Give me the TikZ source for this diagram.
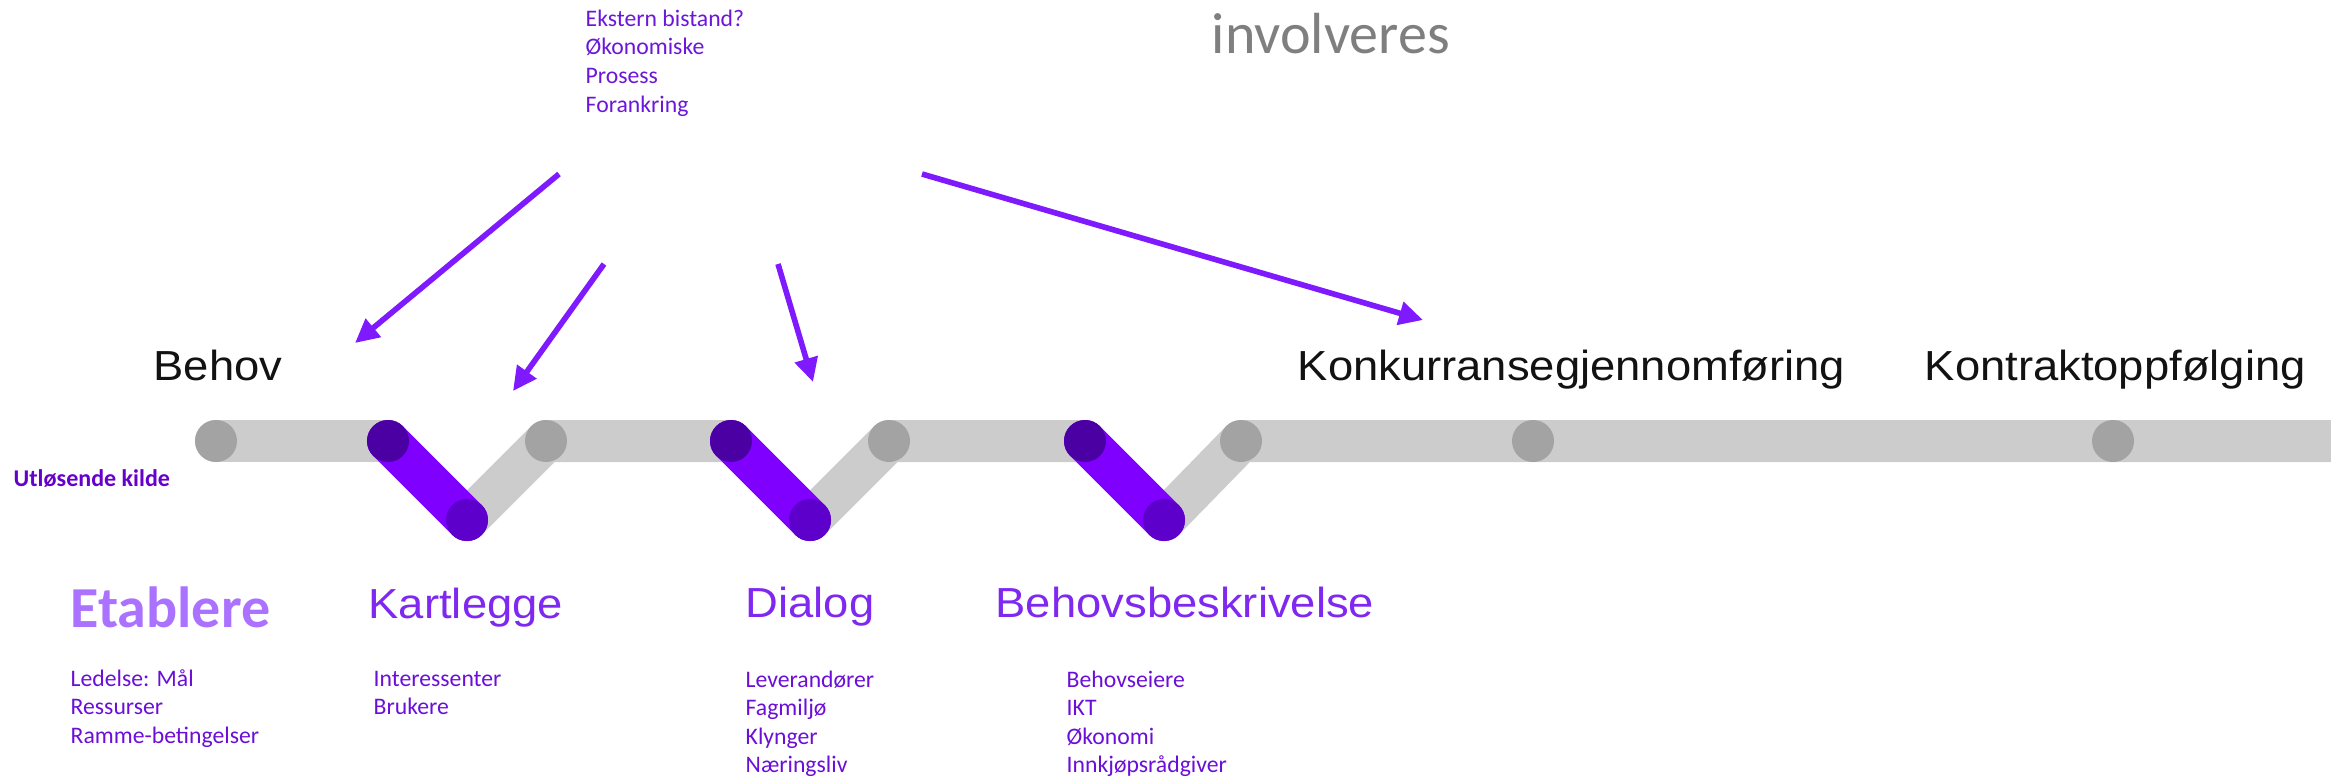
\documentclass[tikz,border=0pt]{standalone}
\usepackage{fontspec}
\setmainfont{Carlito}
\newfontfamily\titlefont[FakeStretch=1.08]{Liberation Sans}
\usetikzlibrary{arrows.meta}
\definecolor{trackgray}{HTML}{CCCCCC}
\definecolor{dotgray}{HTML}{A3A3A3}
\definecolor{barc}{HTML}{7F00FF}
\definecolor{bartop}{HTML}{4B00A3}
\definecolor{barbot}{HTML}{5E00CC}
\definecolor{arrowc}{HTML}{7F1AFF}
\definecolor{listc}{HTML}{6B0FD8}
\definecolor{headc}{HTML}{7E28F0}
\definecolor{etabc}{HTML}{AA72FF}
\definecolor{kildec}{HTML}{6600CC}
\definecolor{invc}{HTML}{7F7F7F}
\tikzset{
  listtext/.style={anchor=base west, inner sep=0pt, text=listc, font=\fontsize{6.74pt}{8pt}\selectfont},
  titletext/.style={anchor=base west, inner sep=0pt, text=black!93, font=\titlefont\fontsize{11.95pt}{14pt}\selectfont},
  headtext/.style={titletext, text=headc},
  dot/.style={circle, fill=dotgray, minimum size=0.42cm, inner sep=0pt},
  ptop/.style={circle, fill=bartop, minimum size=0.42cm, inner sep=0pt},
  pbot/.style={circle, fill=barbot, minimum size=0.42cm, inner sep=0pt},
  track/.style={line width=11.95pt, trackgray, line cap=round, line join=round},
  pbar/.style={line width=11.95pt, barc, line cap=round},
  arr/.style={arrowc, line width=1.6pt, -{Triangle[length=6.8pt,width=6.5pt]}}
}
\begin{document}
\begin{tikzpicture}[x=0.01cm,y=-0.01cm]
\useasboundingbox (0,0) rectangle (2331,778);

% track nodes
\coordinate (c0c) at (216,441);
\coordinate (p1t) at (388,441);
\coordinate (p1b) at (467,520);
\coordinate (g1c) at (546,441);
\coordinate (p2t) at (731,441);
\coordinate (p2b) at (810,520);
\coordinate (g2c) at (889,441);
\coordinate (p3t) at (1085,441);
\coordinate (p3b) at (1164,520);
\coordinate (g3c) at (1241,441);
\coordinate (trackend) at (2345,441);

\draw[track] (c0c) -- (p1t);
\draw[track] (p1b) -- (g1c) -- (p2t);
\draw[track] (p2b) -- (g2c) -- (p3t);
\draw[track, line cap=butt] (p3b) -- (g3c) -- (trackend);

\draw[pbar] (p1t) -- (p1b);
\draw[pbar] (p2t) -- (p2b);
\draw[pbar] (p3t) -- (p3b);

\node[dot] (c0) at (c0c) {};
\node[dot] (g1) at (g1c) {};
\node[dot] (g2) at (g2c) {};
\node[dot] (g3) at (g3c) {};
\node[dot] (c4) at (1533,441) {};
\node[dot] (c5) at (2113,441) {};
\node[ptop] (t1) at (p1t) {};
\node[ptop] (t2) at (p2t) {};
\node[ptop] (t3) at (p3t) {};
\node[pbot] (b1) at (p1b) {};
\node[pbot] (b2) at (p2b) {};
\node[pbot] (b3) at (p3b) {};

% top texts
\foreach \t [count=\i] in {Ekstern bistand?, Økonomiske, Prosess, Forankring}
  \node[listtext, text=arrowc!85!black] (ek\i) at (585,{26+28.7*(\i-1)}) {\t};
\node[anchor=base west, inner sep=0pt, text=invc, font=\fontsize{16.5pt}{19pt}\selectfont] (inv) at (1211,53) {involveres};

% titles on the line
\node[titletext] (behov) at (153,380) {Behov};
\node[titletext] (konk) at (1297,380) {Konkurransegjennomføring};
\node[titletext] (kontr) at (1924,380) {Kontraktoppfølging};

\node[anchor=base west, inner sep=0pt, text=kildec, font=\bfseries\fontsize{6.83pt}{8pt}\selectfont] (kilde) at (13,486) {Utløsende kilde};

% headings
\node[anchor=base west, inner sep=0pt, text=etabc, font=\bfseries\fontsize{16.5pt}{19pt}\selectfont] (etab) at (70,627) {Etablere};
\node[headtext] (kart) at (368,618) {Kartlegge};
\node[headtext] (dial) at (745,617) {Dialog};
\node[headtext] (bbes) at (995,617) {Behovsbeskrivelse};

% lists
\foreach \t [count=\i] in {Ledelse: Mål, Ressurser, Ramme-betingelser}
  \node[listtext] (et\i) at (70,{686+28.5*(\i-1)}) {\t};
\foreach \t [count=\i] in {Interessenter, Brukere}
  \node[listtext] (ka\i) at (373,{686+28.5*(\i-1)}) {\t};
\foreach \t [count=\i] in {Leverandører, Fagmiljø, Klynger, Næringsliv}
  \node[listtext] (di\i) at (745,{687+28.5*(\i-1)}) {\t};
\foreach \t [count=\i] in {Behovseiere, IKT, Økonomi, Innkjøpsrådgiver}
  \node[listtext] (be\i) at (1066,{687+28.5*(\i-1)}) {\t};

% arrows
\coordinate (a1s) at (559,174); \coordinate (a1e) at (355,343);
\coordinate (a2s) at (604,264); \coordinate (a2e) at (513,391);
\coordinate (a3s) at (778,264); \coordinate (a3e) at (813,382);
\coordinate (a4s) at (922,174); \coordinate (a4e) at (1423,320);
\draw[arr] (a1s) -- (a1e);
\draw[arr] (a2s) -- (a2e);
\draw[arr] (a3s) -- (a3e);
\draw[arr] (a4s) -- (a4e);
\end{tikzpicture}
\end{document}
